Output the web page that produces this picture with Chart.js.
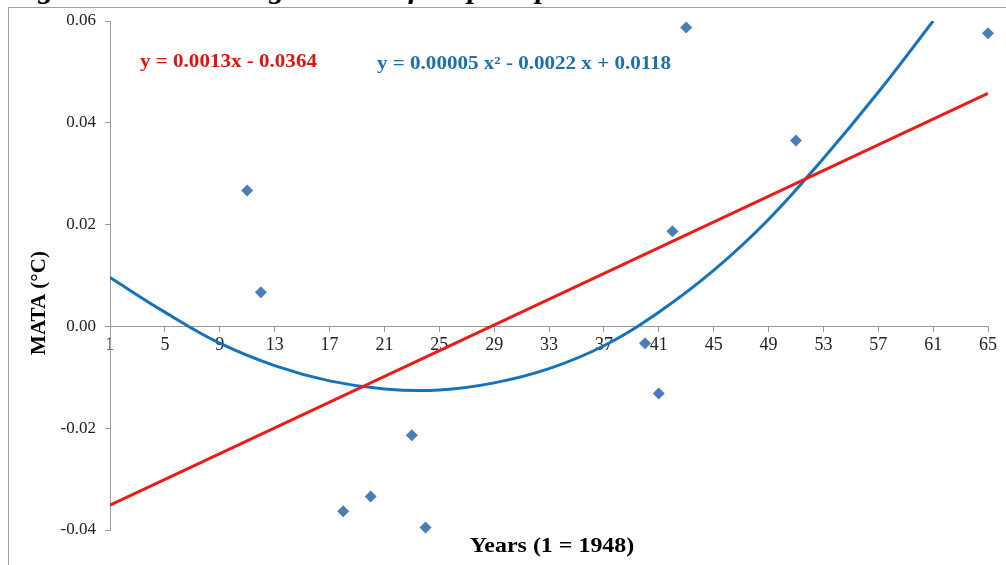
<!DOCTYPE html>
<html>
<head>
<meta charset="utf-8">
<title>MATA regressions</title>
<script src="https://cdn.jsdelivr.net/npm/chart.js@4.4.1/dist/chart.umd.min.js"></script>
<style>
    html, body {
        margin: 0;
        padding: 0;
        background: #ffffff;
        overflow: hidden;
    }
    #wrap {
        position: relative;
        width: 1006px;
        height: 565px;
        overflow: hidden;
    }
    #frame {
        position: absolute;
        left: 8px;
        top: 7px;
        width: 1100px;
        height: 700px;
        border: 1px solid #a0a0a0;
    }
    #caption {
        position: absolute;
        left: 10px;
        top: -24px;
        font-family: "Liberation Serif", "DejaVu Serif", serif;
        font-size: 27px;
        font-weight: bold;
        font-style: italic;
        line-height: 27px;
        white-space: nowrap;
        color: #000;
        transform: scaleX(1.12);
        transform-origin: left top;
    }
    #chartBox {
        position: absolute;
        left: 0;
        top: 0;
        width: 1006px;
        height: 565px;
    }
</style>
</head>
<body>
<div id="wrap">
    <div id="frame"></div>
    <div id="caption">Figure 3: General regressions of deep temperature anomalies with time</div>
    <div id="chartBox"><canvas id="mataChart"></canvas></div>
</div>
<script>
// Observed anomalies (x = year index, 1 = 1948)
const years = [11, 12, 18, 20, 23, 24, 40, 41, 42, 43, 51, 65];
const mata = [0.0267, 0.0067, -0.0363, -0.0334, -0.0214, -0.0395, -0.0033, -0.0132, 0.0187, 0.0587, 0.0365, 0.0576];

// Linear trend, read at both ends
const linearX = [1, 65];
const linearY = [-0.0351, 0.0458];

// Polynomial trend, every 4 years
const polyX = [1, 5, 9, 13, 17, 21, 25, 29, 33, 37, 41, 45, 49, 53, 57, 61];
const polyY = [0.0096, 0.0028, -0.0033, -0.0077, -0.0107, -0.0123, -0.0125, -0.0111, -0.0083, -0.0038, 0.0028, 0.0110, 0.0210, 0.0330, 0.0460, 0.0600];

// Axis ticks
const xTicks = [1, 5, 9, 13, 17, 21, 25, 29, 33, 37, 41, 45, 49, 53, 57, 61, 65];
const yTicks = [-0.04, -0.02, 0, 0.02, 0.04, 0.06];

const linearLabel = 'y = 0.0013x - 0.0364';
const polyLabel = 'y = 0.00005 x\u00B2 - 0.0022 x + 0.0118';
const xTitle = 'Years (1 = 1948)';
const yTitle = 'MATA (\u00B0C)';

const serif = '"Liberation Serif", "DejaVu Serif", serif';
const axisGray = '#9a9a9a';

// text in the original is slightly stretched sideways
function stretchedText(ctx, text, x, y, stretch) {
    ctx.save();
    ctx.translate(x, y);
    ctx.scale(stretch, 1);
    ctx.fillText(text, 0, 0);
    ctx.restore();
}

// Equations and axis titles drawn on top
const annotations = {
    id: 'annotations',
    afterDraw(chart) {
        const ctx = chart.ctx;
        ctx.save();
        ctx.textBaseline = 'middle';

        ctx.font = 'bold 18px ' + serif;
        ctx.textAlign = 'left';
        ctx.fillStyle = '#e3120b';
        stretchedText(ctx, linearLabel, 140, 62, 1.17);
        ctx.fillStyle = '#1a6fae';
        stretchedText(ctx, polyLabel, 377, 64, 1.17);

        ctx.fillStyle = '#000';
        ctx.font = 'bold 21px ' + serif;
        ctx.textAlign = 'center';
        stretchedText(ctx, xTitle, 552, 547, 1.14);

        ctx.translate(40, 303);
        ctx.rotate(-Math.PI / 2);
        ctx.fillText(yTitle, 0, 0);
        ctx.restore();
    }
};

const ctx = document.getElementById('mataChart');

new Chart(ctx, {
    type: 'scatter',
    data: {
        datasets: [
            {
                label: 'MATA',
                data: years.map((x, i) => ({ x: x, y: mata[i] })),
                pointStyle: 'rectRot',
                pointRadius: 6,
                pointBackgroundColor: '#4a7ebb',
                pointBorderColor: '#4a7ebb',
                pointBorderWidth: 0,
                showLine: false,
                clip: false
            },
            {
                label: 'Linear',
                data: linearX.map((x, i) => ({ x: x, y: linearY[i] })),
                showLine: true,
                borderColor: '#ee1b14',
                borderWidth: 3,
                pointRadius: 0
            },
            {
                label: 'Polynomial',
                data: polyX.map((x, i) => ({ x: x, y: polyY[i] })),
                showLine: true,
                borderColor: '#1572bd',
                borderWidth: 3,
                pointRadius: 0,
                tension: 0.4
            }
        ]
    },
    options: {
        responsive: true,
        maintainAspectRatio: false,
        animation: false,
        layout: {
            // the x axis sits at y = 0, so it reserves no room; leave space for the title
            padding: { top: 21, right: 18, bottom: 35, left: 0 }
        },
        plugins: {
            legend: { display: false },
            tooltip: { enabled: false },
            title: { display: false }
        },
        scales: {
            x: {
                type: 'linear',
                position: { y: 0 },
                min: 1,
                max: 65,
                afterBuildTicks: (scale) => {
                    scale.ticks = xTicks.map(v => ({ value: v }));
                },
                grid: {
                    drawOnChartArea: false,
                    drawTicks: true,
                    tickLength: 5,
                    color: axisGray
                },
                border: {
                    display: true,
                    color: axisGray,
                    width: 1
                },
                ticks: {
                    color: '#222',
                    padding: 3,
                    maxRotation: 0,
                    autoSkip: false,
                    font: { family: serif, size: 18 },
                    callback: (value) => String(value)
                }
            },
            y: {
                type: 'linear',
                min: -0.04,
                max: 0.06,
                afterBuildTicks: (scale) => {
                    scale.ticks = yTicks.map(v => ({ value: v }));
                },
                afterFit: (scale) => {
                    scale.width = 110;
                },
                grid: {
                    drawOnChartArea: false,
                    drawTicks: true,
                    tickLength: 5,
                    color: axisGray
                },
                border: {
                    display: true,
                    color: axisGray,
                    width: 1
                },
                ticks: {
                    color: '#222',
                    padding: 9,
                    font: { family: serif, size: 17 },
                    callback: (value) => Number(value).toFixed(2)
                }
            }
        }
    },
    plugins: [annotations]
});
</script>
</body>
</html>
